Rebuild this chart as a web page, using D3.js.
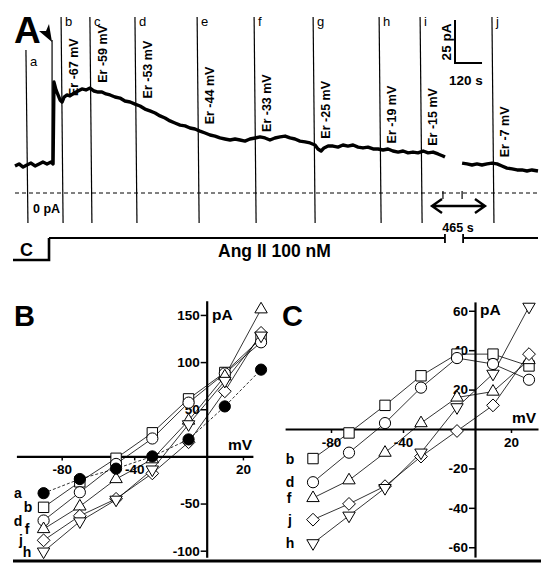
<!DOCTYPE html>
<html>
<head>
<meta charset="utf-8">
<script src="https://cdn.jsdelivr.net/npm/d3@7"></script>
<style>
  body { margin: 0; background: #fff; }
  svg { display: block; font-family: "Liberation Sans", Arial, sans-serif; }
</style>
</head>
<body>
<svg id="fig" width="541" height="563"></svg>
<script>
// ---- panel A : whole-cell current trace (time in s, current in pA) ----
const traceTime = [0, 18, 36, 53, 71, 89, 107, 124, 142, 160, 169,
  173, 182, 191, 200, 209, 218, 231, 244, 262, 280, 297, 315, 333, 351, 369, 386, 404, 422,
  444, 466, 488, 511, 533, 555, 577, 599, 622, 644, 666, 688, 710, 733, 755, 777, 799, 821,
  844, 866, 888, 910, 932, 955, 977, 999, 1021, 1043, 1066, 1088, 1110, 1132, 1154, 1177,
  1199, 1221, 1243, 1265, 1288, 1310, 1332, 1345, 1359, 1372, 1390, 1412, 1434, 1456, 1478,
  1501, 1523, 1545, 1567, 1590, 1612, 1634, 1656, 1678, 1701, 1723, 1745, 1767, 1789, 1812,
  1834, 1856, 1878, 1900, 1909, 1950,
  1985, 2007, 2029, 2051, 2073, 2096, 2118, 2140, 2162, 2184, 2207, 2229, 2251, 2273, 2295, 2322];
const traceCurrent = [15.7, 16.9, 15.1, 16.3, 17.4, 15.7, 16.9, 18.0, 16.9, 18.0, 16.9,
  64.5, 59.9, 57.0, 54.1, 52.9, 55.8, 57.0, 56.4, 58.1, 59.3, 60.5, 59.9, 61.0, 59.3, 58.7, 58.7, 57.6, 57.0,
  55.8, 55.2, 53.5, 52.9, 51.7, 50.6, 48.8, 47.7, 46.5, 44.8, 43.6, 41.9, 40.7, 39.5, 39.0, 37.8, 37.2, 36.0,
  34.9, 33.7, 33.1, 32.0, 31.4, 30.8, 31.4, 30.8, 30.2, 31.4, 32.0, 32.6, 32.0, 30.8, 32.0, 32.6,
  33.1, 32.0, 31.4, 30.2, 29.7, 29.1, 27.9, 25.6, 24.4, 26.2, 27.3, 27.3, 26.7, 27.9, 27.3,
  27.9, 26.7, 26.2, 26.7, 25.6, 25.6, 25.0, 25.6, 24.4, 23.8, 24.4, 23.3, 23.8, 23.3, 24.4,
  23.3, 23.8, 22.7, 21.5, 20.9, null,
  17.4, 16.9, 16.3, 16.9, 16.3, 16.9, 17.4, 16.9, 15.7, 14.5, 14.0, 13.4, 13.4, 12.8, 13.4, 12.8];

const rampTime = [53, 209, 337, 537, 813, 1066, 1328, 1621, 1803, 2122];
const rampLetter = ["a", "b", "c", "d", "e", "f", "g", "h", "i", "j"];
const rampEr = [null, -67, -59, -53, -44, -33, -25, -19, -15, -7];
const angIIStart = 151;
const jumpTime = 169;
const breakStart = 1900, breakEnd = 1985;
const gapLabel = "465 s";

// ---- panels B and C : I-V relations (mV, pA) ----
const voltages = [-90, -70, -50, -30, -10, 10, 30];
const ivB_a = [-39, -24, -13, 0, 18, 53, 92];
const ivB_b = [-54, -27, -2, 25, 61, 89, 125];
const ivB_d = [-68, -38, -8, 19, 57, 88, 121];
const ivB_f = [-77, -53, -24, -3, 38, 85, 156];
const ivB_j = [-89, -63, -45, -18, 15, 69, 131];
const ivB_h = [-101, -69, -46, -14, 34, 80, 128];

const ivC_b = [-15, -2, 12, 27, 38, 38, 32];
const ivC_d = [-27, -12, 3, 21, 36, 33, 25];
const ivC_f = [-35, -26, -12, 3, 16, 19, 35];
const ivC_j = [-46, -38, -29, -14, -1, 12, 38];
const ivC_h = [-58, -44, -30, -12, 11, 28, 62];

const xTicks = [-80, -40, 20];
const yTicksB = [150, 100, 50, -50, -100];
const yTicksC = [60, 40, 20, -20, -40, -60];

const svg = d3.select("#fig");
const FONT = "\"Liberation Sans\", Arial, sans-serif";

function txt(x, y, s, size, opts = {}) {
  return svg.append("text")
    .attr("x", x).attr("y", y)
    .attr("font-size", size + "px")
    .attr("font-weight", opts.weight || "bold")
    .attr("text-anchor", opts.anchor || "start")
    .attr("fill", "#000")
    .text(s);
}

// ================= Panel A =================
const xA = d3.scaleLinear().domain([0, 2322]).range([15, 538]);
const yA = d3.scaleLinear().domain([0, 25]).range([193, 150]);

const trace = traceTime.map((t, i) => ({ t, I: traceCurrent[i] }));
const traceDef = trace.filter(d => d.I != null);
const bis = d3.bisector(d => d.t).left;
function traceAt(t) {
  const i = Math.min(Math.max(bis(traceDef, t), 1), traceDef.length - 1);
  const a = traceDef[i - 1], b = traceDef[i];
  return a.I + (b.I - a.I) * (t - a.t) / (b.t - a.t);
}

// zero-current dashed line
svg.append("line")
  .attr("x1", xA(0)).attr("x2", xA(2322))
  .attr("y1", yA(0)).attr("y2", yA(0))
  .attr("stroke", "#000").attr("stroke-width", 1)
  .attr("stroke-dasharray", "4,3");

// break ticks on the zero line
[breakStart, breakEnd].forEach(t => {
  svg.append("line")
    .attr("x1", xA(t)).attr("x2", xA(t))
    .attr("y1", yA(0) - 2).attr("y2", yA(0) + 6)
    .attr("stroke", "#000").attr("stroke-width", 1.2);
});

// voltage ramps
rampTime.forEach((t, i) => {
  const x = xA(t);
  svg.append("line")
    .attr("x1", x - 1).attr("x2", x + 1)
    .attr("y1", i === 0 ? 50 : 17).attr("y2", 223)
    .attr("stroke", "#000").attr("stroke-width", 1.2);
  txt(x + 3, i === 0 ? 66 : 26, rampLetter[i], 13, { weight: "normal" });
  if (rampEr[i] != null) {
    svg.append("text")
      .attr("transform", `translate(${x + 16},${yA(traceAt(t)) - 6}) rotate(-90)`)
      .attr("font-size", "12.5px").attr("font-weight", "bold")
      .attr("fill", "#000")
      .text(`Er ${rampEr[i]} mV`);
  }
});

// line at Ang II application
svg.append("line")
  .attr("x1", xA(jumpTime) - 1).attr("x2", xA(jumpTime) - 1)
  .attr("y1", 40).attr("y2", yA(traceAt(jumpTime - 1)))
  .attr("stroke", "#000").attr("stroke-width", 1.2);

// current trace
svg.append("path")
  .datum(trace)
  .attr("d", d3.line().defined(d => d.I != null).x(d => xA(d.t)).y(d => yA(d.I)))
  .attr("fill", "none")
  .attr("stroke", "#000")
  .attr("stroke-width", 3.4)
  .attr("stroke-linejoin", "round");

txt(33, 213, "0 pA", 12.5);

// scale bar
const sbX = 455, sbY = 63;
svg.append("path")
  .attr("d", `M${sbX},${sbY - (yA(0) - yA(25))}V${sbY}H${sbX + xA(120) - xA(0)}`)
  .attr("fill", "none").attr("stroke", "#000").attr("stroke-width", 2);
svg.append("text")
  .attr("transform", `translate(${sbX - 4},${sbY - 21}) rotate(-90)`)
  .attr("text-anchor", "middle")
  .attr("font-size", "13.5px").attr("font-weight", "bold").attr("fill", "#000")
  .text("25 pA");
txt(sbX + 11, 85, "120 s", 13.5, { anchor: "middle" });

// double arrow for the omitted interval
const arY = 206, arL = 432, arR = 485;
svg.append("path")
  .attr("d", `M${arL},${arY}H${arR}M${arL + 10},${arY - 7}L${arL},${arY}L${arL + 10},${arY + 7}` +
             `M${arR - 10},${arY - 7}L${arR},${arY}L${arR - 10},${arY + 7}`)
  .attr("fill", "none").attr("stroke", "#000").attr("stroke-width", 2.4);
txt(458, 232, gapLabel, 12.5, { anchor: "middle" });

// protocol bar
const xOn = xA(angIIStart);
svg.append("path")
  .attr("d", `M13,260H${xOn}V238`)
  .attr("fill", "none").attr("stroke", "#000").attr("stroke-width", 2.6);
svg.append("path")
  .attr("d", `M${xOn},238H${xA(breakStart) + 2}M${xA(breakStart) + 2},234V243` +
             `M${xA(breakEnd) + 1},234V243M${xA(breakEnd) + 1},238H538`)
  .attr("fill", "none").attr("stroke", "#000").attr("stroke-width", 1.8);
txt(20, 256, "C", 18);
txt(218, 257, "Ang II 100 nM", 17.5);

// panel letter + arrowhead
txt(14, 43, "A", 37);
svg.append("path")
  .attr("d", "M52,42L39,31L46,31L49,24Z")
  .attr("fill", "#000");

// ================= I-V panels =================
function shape(type) {
  switch (type) {
    case "circle":
    case "filled": return "M5.6,0A5.6,5.6 0 1 1 -5.6,0A5.6,5.6 0 1 1 5.6,0Z";
    case "square": return "M-5.2,-5.2H5.2V5.2H-5.2Z";
    case "up": return "M0,-7L6.2,3.6H-6.2Z";
    case "down": return "M0,7L6.2,-3.6H-6.2Z";
    case "diamond": return "M0,-6.4L6.4,0L0,6.4L-6.4,0Z";
  }
}

function ivPanel(cfg) {
  const { x, y, series, yTicks, letter, letterPos, pAPos, mVPos } = cfg;

  const gx = svg.append("g")
    .attr("transform", `translate(0,${y(0)})`)
    .call(d3.axisBottom(x).tickValues(xTicks).tickSizeInner(4).tickSizeOuter(0).tickPadding(4)
      .tickFormat(d3.format("d")));
  const gy = svg.append("g")
    .attr("transform", `translate(${x(0)},0)`)
    .call(d3.axisLeft(y).tickValues(yTicks).tickSizeInner(6).tickSizeOuter(0).tickPadding(1)
      .tickFormat(d3.format("d")));
  [gx, gy].forEach(g => {
    g.select(".domain").attr("stroke-width", 2.2);
    g.selectAll(".tick line").attr("stroke-width", 1.5);
    g.selectAll(".tick text")
      .attr("font-family", FONT).attr("font-size", "13.5px")
      .attr("font-weight", "bold").attr("fill", "#000");
  });
  gx.selectAll(".tick text").text(d => d3.format("d")(d).replace("−", "-"));
  gy.selectAll(".tick text").text(d => d3.format("d")(d).replace("−", "-"));

  txt(letterPos[0], letterPos[1], letter, 29);
  txt(pAPos[0], pAPos[1], "pA", 15.5);
  txt(mVPos[0], mVPos[1], "mV", 15.5);

  const line = d3.line().x(d => x(d.v)).y(d => y(d.i));
  series.forEach(s => {
    svg.append("path")
      .datum(voltages.map((v, k) => ({ v, i: s.values[k] })))
      .attr("d", line)
      .attr("fill", "none").attr("stroke", "#000").attr("stroke-width", 0.8)
      .attr("stroke-dasharray", s.dash || null);
  });
  series.forEach(s => {
    svg.selectAll(null)
      .data(voltages.map((v, k) => ({ v, i: s.values[k] })))
      .join("path")
      .attr("transform", d => `translate(${x(d.v)},${y(d.i)})`)
      .attr("d", shape(s.shape))
      .attr("fill", s.shape === "filled" ? "#000" : "#fff")
      .attr("stroke", "#000").attr("stroke-width", 1);
    txt(s.lx, y(s.values[0]) + 5, s.name, 14, { anchor: "middle" });
  });
}

// B
const xB = d3.scaleLinear().domain([-105, 25.5]).range([16.4, 252.9]);
const yB = d3.scaleLinear().domain([-107, 165]).range([557.3, 300.8]);
ivPanel({
  x: xB, y: yB, yTicks: yTicksB, letter: "B",
  letterPos: [14, 326], pAPos: [212, 320], mVPos: [228, 450],
  series: [
    { name: "b", values: ivB_b, shape: "square", lx: 28 },
    { name: "d", values: ivB_d, shape: "circle", lx: 18 },
    { name: "f", values: ivB_f, shape: "up", lx: 27 },
    { name: "j", values: ivB_j, shape: "diamond", lx: 21 },
    { name: "h", values: ivB_h, shape: "down", lx: 27 },
    { name: "a", values: ivB_a, shape: "filled", lx: 18, dash: "3,2" }
  ]
});

// C
const xC = d3.scaleLinear().domain([-105.5, 35]).range([285.1, 538]);
const yC = d3.scaleLinear().domain([-65, 64.5]).range([557.1, 301.9]);
ivPanel({
  x: xC, y: yC, yTicks: yTicksC, letter: "C",
  letterPos: [282, 326], pAPos: [480, 315], mVPos: [512, 423],
  series: [
    { name: "b", values: ivC_b, shape: "square", lx: 290 },
    { name: "d", values: ivC_d, shape: "circle", lx: 290 },
    { name: "f", values: ivC_f, shape: "up", lx: 289 },
    { name: "j", values: ivC_j, shape: "diamond", lx: 290 },
    { name: "h", values: ivC_h, shape: "down", lx: 290 }
  ]
});

// bottom frame line
svg.append("line")
  .attr("x1", 13).attr("x2", 541).attr("y1", 561).attr("y2", 561)
  .attr("stroke", "#000").attr("stroke-width", 3);
</script>
</body>
</html>
